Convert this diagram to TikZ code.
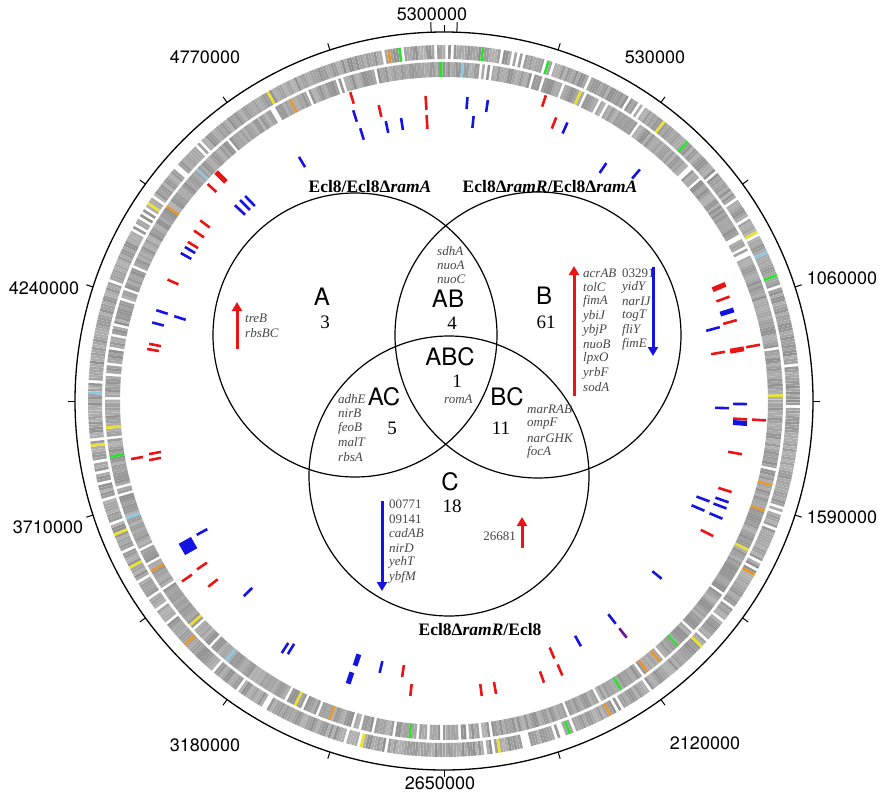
\documentclass[tikz,border=0pt]{standalone}
\usepackage{fontspec}
\setmainfont{Liberation Serif}
\newfontfamily\hv{TeX Gyre Heros}
\usetikzlibrary{calc,arrows.meta}
\definecolor{mred}{RGB}{235,20,20}
\definecolor{mblue}{RGB}{20,20,225}
\definecolor{ggreen}{RGB}{40,225,40}
\definecolor{gyellow}{RGB}{235,225,40}
\definecolor{gblue}{RGB}{140,200,230}
\definecolor{gorange}{RGB}{230,150,40}
\definecolor{genec}{RGB}{70,70,70}
\newcommand\mk[4]{\draw[#1] ($(#2,#3)!#4pt!(O)$) -- ($(#2,#3)!-#4pt!(O)$);}
\newcommand\track[3]{%
 \foreach \a in {0,0.45,...,359.9}{%
  \pgfmathsetmacro\rr{rnd}%
  \pgfmathsetmacro\gg{int(30+14*rnd)}%
  \ifdim\rr pt<0.08pt\relax\else
   \ifdim\rr pt>0.99pt\def\cc{ggreen}\else
   \ifdim\rr pt>0.982pt\def\cc{gyellow}\else
   \ifdim\rr pt>0.976pt\def\cc{gblue}\else
   \ifdim\rr pt>0.973pt\def\cc{gorange}\else
   \def\cc{black!\gg}\fi\fi\fi\fi
   \draw[line width=2.6pt,color=\cc] (\a:#1) -- (\a:#2);
  \fi}}
\tikzset{
 vc/.style={draw=black,line width=1.2pt},
 lab/.style={font=\hv\fontsize{18}{18}\selectfont},
 big/.style={font=\hv\fontsize{24}{24}\selectfont,inner sep=0},
 num/.style={font=\fontsize{19}{19}\selectfont,inner sep=0},
 ttl/.style={font=\bfseries\fontsize{17.5}{17.5}\selectfont},
 gene/.style={font=\itshape\fontsize{13}{13}\selectfont,text=genec,anchor=west,inner sep=0},
 upa/.style={mred,line width=3pt,-{Triangle[length=9pt,width=10pt]}},
 dna/.style={mblue,line width=3pt,-{Triangle[length=9pt,width=10pt]}},
 rm/.style={mred,line width=2.6pt},
 bm/.style={mblue,line width=2.6pt},
 rt/.style={mred,line width=5pt},
 bt/.style={mblue,line width=5pt},
}
\begin{document}
\begin{tikzpicture}[x=1pt,y=-1pt]
\useasboundingbox (0,0) rectangle (884,800);
\coordinate (O) at (444,401);
\begin{scope}[shift={(444,401)}]
 \pgfmathsetseed{11}
 \track{342}{356}{}
 \track{324}{339}{}
 \draw[line width=1.3pt] (0,0) circle (369);
 \foreach \t in {0,18,...,342}{\draw[line width=1pt] (\t:369) -- (\t:376);}
 \draw[line width=1pt] (-88:369) -- (-88:379);
 \draw[line width=1pt] (-92:369) -- (-92:379);
\end{scope}
% tick labels
\node[lab] (t1) at (432,14) {5300000};
\node[lab] (t2) at (655,57) {530000};
\node[lab] (t3) at (842,278) {1060000};
\node[lab] (t4) at (842,517) {1590000};
\node[lab] (t5) at (705,743) {2120000};
\node[lab] (t6) at (440,783) {2650000};
\node[lab] (t7) at (205,745) {3180000};
\node[lab] (t8) at (48,527) {3710000};
\node[lab] (t9) at (44,288) {4240000};
\node[lab] (t10) at (205,57) {4770000};
% marks top
\mk{rm}{352}{98}{6}\mk{rm}{380}{111}{6}\mk{rm}{426}{103}{7}\mk{rm}{427}{122}{7}
\mk{bm}{355}{116}{6}\mk{bm}{362}{134}{6}\mk{bm}{387}{127}{6}\mk{bm}{402}{124}{6}
\mk{bm}{467}{103}{6}\mk{bm}{487}{106}{6}\mk{bm}{473}{122}{6}
\mk{rm}{544}{101}{6}\mk{rm}{554}{123}{6}\mk{bm}{565}{128}{6}
\mk{bm}{603}{168}{6}\mk{bm}{636}{174}{6}
% top left
\mk{bm}{302}{162}{6}\mk{rt}{221}{177}{7}\mk{rm}{212}{188}{6}
\mk{bm}{240}{210}{7}\mk{bm}{245}{205}{7}\mk{bm}{250}{201}{7}
\mk{rm}{205}{224}{6}\mk{rm}{199}{234}{6}\mk{rm}{193}{245}{6}
\mk{bm}{186}{256}{6}\mk{bm}{190}{250}{6}\mk{rm}{173}{282}{6}
\mk{bm}{162}{312}{6}\mk{bm}{180}{318}{6}\mk{bm}{158}{324}{6}
\mk{rm}{155}{345}{6}\mk{rm}{153}{350}{6}
\mk{rm}{137}{458}{6}\mk{rm}{155}{453}{6}\mk{rm}{155}{459}{6}
% bottom left
\mk{mblue,line width=13pt}{188}{546}{7}\mk{bm}{202}{532}{6}
\mk{rm}{202}{566}{6}\mk{rm}{187}{578}{6}\mk{rm}{213}{583}{6}\mk{bm}{248}{592}{6}
\mk{bm}{285}{648}{6}\mk{bm}{291}{649}{6}
\mk{bt}{357}{660}{6}\mk{bt}{350}{678}{6}\mk{bm}{381}{667}{6}
\mk{rm}{403}{671}{6}\mk{rm}{411}{690}{6}\mk{rm}{481}{690}{6}\mk{rm}{495}{688}{6}
\mk{rm}{542}{677}{6}\mk{rm}{552}{653}{6}\mk{rm}{560}{670}{6}
\mk{bm}{578}{641}{6}\mk{bm}{612}{619}{6}\mk{{mblue!60!mred,line width=2.6pt}}{623}{633}{6}
\mk{bm}{657}{575}{6}
% right
\mk{rt}{719}{287}{7}\mk{rm}{723}{299}{7}\mk{bt}{727}{312}{7}\mk{rm}{730}{322}{7}\mk{bm}{713}{329}{7}
\mk{rm}{718}{353}{7}\mk{rt}{737}{350}{7}\mk{rm}{753}{346}{7}
\mk{bm}{722}{408}{7}\mk{bm}{740}{404}{7}\mk{rm}{740}{419}{7}\mk{rm}{759}{420}{7}\mk{bt}{740}{423}{7}
\mk{rm}{735}{453}{7}\mk{rm}{725}{490}{7}
\mk{bm}{703}{499}{7}\mk{bm}{722}{500}{7}\mk{bm}{720}{506}{7}\mk{bm}{698}{508}{7}\mk{bm}{716}{516}{7}
\mk{rm}{707}{533}{7}
% Venn
\draw[vc] (355,335) circle (142);
\draw[vc] (538,335) circle (143);
\draw[vc] (449,476) circle (140);
\node[ttl] (tA) at (370,187) {Ecl8/Ecl8Δ\textit{ramA}};
\node[ttl] (tB) at (550,187) {Ecl8Δ\textit{ramR}/Ecl8Δ\textit{ramA}};
\node[ttl] (tC) at (480,630) {Ecl8Δ\textit{ramR}/Ecl8};
\node[big] (lA) at (322,297) {A};  \node[num] (nA) at (325,322) {3};
\node[big] (lAB) at (448,299) {AB}; \node[num] (nAB) at (452,323) {4};
\node[big] (lB) at (544,296) {B};  \node[num] (nB) at (546,322) {61};
\node[big] (lABC) at (450,357) {ABC}; \node[num] (nABC) at (457,381) {1};
\node[big] (lAC) at (384,397) {AC}; \node[num] (nAC) at (392,428) {5};
\node[big] (lBC) at (507,397) {BC}; \node[num] (nBC) at (501,428) {11};
\node[big] (lC) at (450,482) {C};  \node[num] (nC) at (452,506) {18};
\node[gene] (g1) at (437,251) {sdhA};
\node[gene] (g2) at (437,265) {nuoA};
\node[gene] (g3) at (437,279) {nuoC};
\node[gene] (g4) at (245,318) {treB};
\node[gene] (g5) at (245,333) {rbsBC};
\coordinate (a1s) at (237,349); \coordinate (a1e) at (237,302);
\draw[upa] (a1s) -- (a1e);
\foreach \g [count=\i from 0] in {acrAB,tolC,fimA,ybiJ,ybjP,nuoB,lpxO,yrbF,sodA}
  {\node[gene] (b\i) at (583,273+14.3*\i) {\g};}
\node[gene,font=\fontsize{13}{13}\selectfont] (c0) at (622,273) {03291};
\foreach \g [count=\i from 1] in {yidY,narIJ,togT,fliY,fimE}
  {\node[gene] (c\i) at (622,273+14.3*\i) {\g};}
\coordinate (a2s) at (574,396); \coordinate (a2e) at (574,266);
\draw[upa] (a2s) -- (a2e);
\coordinate (a3s) at (653,267); \coordinate (a3e) at (653,356);
\draw[dna] (a3s) -- (a3e);
\node[gene] (rom) at (444,399) {romA};
\foreach \g [count=\i from 0] in {adhE,nirB,feoB,malT,rbsA}
  {\node[gene] (d\i) at (338,399+14.5*\i) {\g};}
\foreach \g [count=\i from 0] in {marRAB,ompF,narGHK,focA}
  {\node[gene] (e\i) at (527,409+14.5*\i) {\g};}
\node[gene,font=\fontsize{13}{13}\selectfont] (f0) at (389,504) {00771};
\node[gene,font=\fontsize{13}{13}\selectfont] (f1) at (389,519) {09141};
\foreach \g [count=\i from 2] in {cadAB,nirD,yehT,ybfM}
  {\node[gene] (f\i) at (389,504+14.6*\i) {\g};}
\coordinate (a4s) at (382,501); \coordinate (a4e) at (382,591);
\draw[dna] (a4s) -- (a4e);
\node[gene,anchor=east,font=\fontsize{13}{13}\selectfont] (k) at (516,536) {26681};
\coordinate (a5s) at (522,548); \coordinate (a5e) at (522,517);
\draw[upa] (a5s) -- (a5e);
\end{tikzpicture}
\end{document}
